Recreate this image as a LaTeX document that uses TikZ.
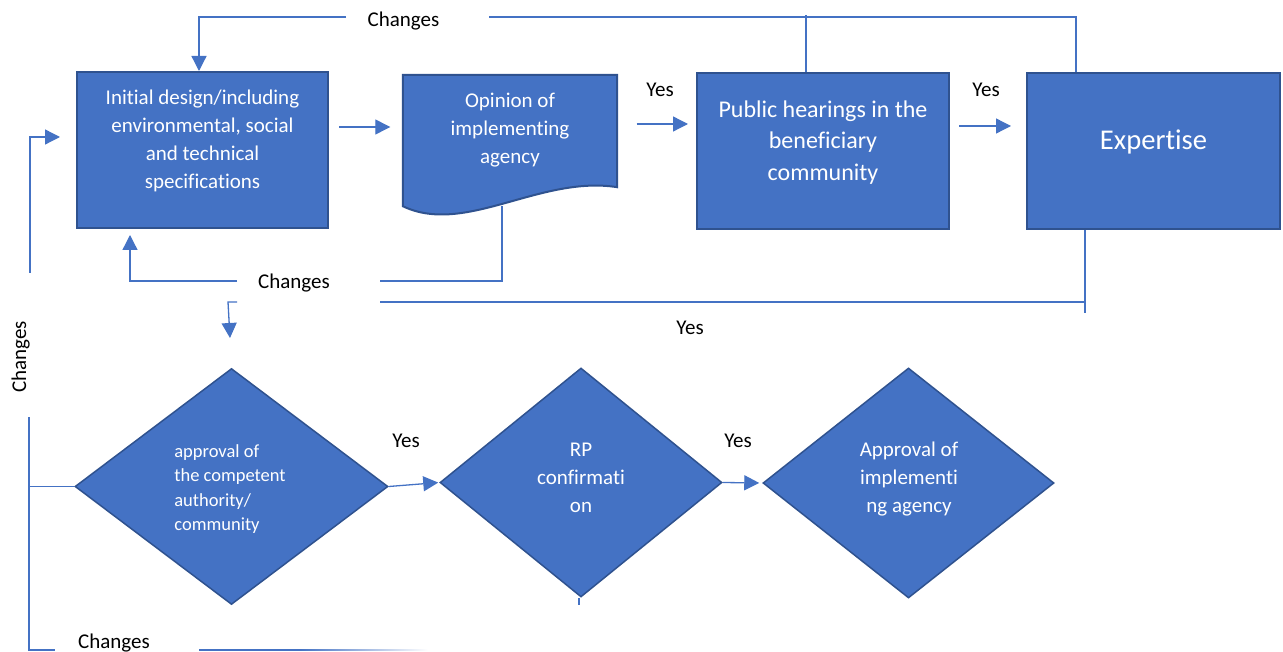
\documentclass[tikz,border=0pt]{standalone}
\usepackage{fontspec}
\setmainfont{Carlito}[Ligatures=NoCommon]
\usetikzlibrary{shapes.geometric,arrows.meta}
\definecolor{boxfill}{HTML}{4472C4}
\definecolor{boxline}{HTML}{2F528F}
\definecolor{linkblue}{HTML}{4472C4}

\begin{document}
\begin{tikzpicture}[
x=1pt,
y=-1pt,
every node/.style={inner sep=0pt}
]

\tikzstyle{bx} = [draw=boxline, fill=boxfill, line width=2pt, shape=rectangle, minimum height=156pt]
\tikzstyle{dc} = [shape=rectangle, minimum width=214pt, minimum height=131pt]
\tikzstyle{dm} = [draw=boxline, fill=boxfill, line width=1.5pt, shape=diamond]
\tikzstyle{wt} = [text=white, align=center, font=\fontsize{21pt}{28pt}\selectfont]
\tikzstyle{lb} = [anchor=base, font=\fontsize{21pt}{25pt}\selectfont]
\tikzstyle{ln} = [draw=linkblue, line width=1.3pt]
\tikzstyle{ar} = [ln, -{Triangle[length=15pt,width=15pt]}]

\useasboundingbox (0,0) rectangle (1283,652);

\node[bx, minimum width=251pt] (design) at (202.5,150) {};
\node[dc] (opinion) at (510,140.5) {};
\filldraw[draw=boxline, fill=boxfill, line width=2pt] (opinion.north west) -- (opinion.north east) -- ([yshift=19pt]opinion.south east)
	.. controls (540,175) and (465,236) .. (opinion.south west) -- cycle;
\node[bx, minimum width=252pt] (hearings) at (823,151) {};
\node[bx, minimum width=253pt] (expertise) at (1153.5,151) {};
\node[dm, minimum width=313pt, minimum height=236pt] (authority) at (231.5,486.5) {};
\node[dm, minimum width=282pt, minimum height=229pt] (rp) at (581,482.5) {};
\node[dm, minimum width=291pt, minimum height=230pt] (approval) at (908.5,483) {};

\node[wt] (designtxt) at (202.5,141) {Initial design/including\\environmental, social\\and technical\\specifications};
\node[wt] (opiniontxt) at (510,130) {Opinion of\\implementing\\agency};
\node[wt, font=\fontsize{24pt}{31.5pt}\selectfont] (hearingstxt) at (823,142.5) {Public hearings in the\\beneficiary\\community};
\node[wt, anchor=base, font=\fontsize{28.6pt}{34pt}\selectfont] (expertisetxt) at (1153.5,150) {Expertise};
\node[wt, align=left, font=\fontsize{18.5pt}{24.5pt}\selectfont] (authoritytxt) at (230,489) {approval of\\the competent\\authority/\\community};
\node[wt] (rptxt) at (581,478) {RP\\confirmati\\on};
\node[wt] (approvaltxt) at (909,479) {Approval of\\implementi\\ng agency};

\node[lb] (chtop) at (403.5,27) {Changes};
\node[lb] (chmid) at (294,289) {Changes};
\node[lb] (chbot) at (114,648) {Changes};
\node[lb, rotate=90] (chside) at (26,357) {Changes};
\node[lb] (yes1) at (660,97) {Yes};
\node[lb] (yes2) at (986,97) {Yes};
\node[lb] (yes3) at (690,335) {Yes};
\node[lb] (yes4) at (406,447) {Yes};
\node[lb] (yes5) at (738,447) {Yes};

\coordinate (t1) at (346,17);
\coordinate (t2) at (199,17);
\coordinate (t3) at (489,17);
\coordinate (t4) at (1076,17);
\coordinate (t5) at (806,15);
\coordinate (l1) at (30,273);
\coordinate (l2) at (30,137);
\coordinate (m0) at (130,281);
\coordinate (m1) at (237,281);
\coordinate (m2) at (380,281);
\coordinate (m3) at (502,281);
\coordinate (y1) at (380,302);
\coordinate (y2) at (1085,313);
\coordinate (k1) at (237,302);
\coordinate (k2) at (228,302);
\coordinate (k3) at (230,338);
\coordinate (b1) at (29,417);
\coordinate (b2) at (29,650);
\coordinate (b3) at (55,650);
\coordinate (b4) at (199,650);
\coordinate (b5) at (300,650);
\coordinate (b6) at (428,650);
\coordinate (s1) at (579,605);

\draw[ar] (t1) -- (t2) -- (design.north -| t2);
\draw[ln] (t3) -- (t4) -- (expertise.north -| t4);
\draw[ln] (hearings.north -| t5) -- (t5);
\draw[ar, shorten <=10pt, shorten >=12.5pt] ([yshift=23pt]design.east) -- ([yshift=13.5pt]opinion.west);
\draw[ar, shorten <=19.5pt, shorten >=8pt] ([yshift=16.5pt]opinion.east) -- ([yshift=27pt]hearings.west);
\draw[ar, shorten <=9pt, shorten >=15pt] ([yshift=25pt]hearings.east) -- ([yshift=25pt]expertise.west);
\draw[ar, shorten >=16pt] (l1) -- (l2) -- (design.west |- l2);
\draw[ar, shorten >=6pt] (m1) -- (m0) -- (design.south -| m0);
\draw[ln] (m2) -- (m3) -- (m3 |- opinion.south);
\draw[ln] (y1) -- (y1 -| y2) (expertise.south -| y2) -- (y2);
\draw[ar] (k1) -- (k2) -- (k3);
\draw[ln] (b1) -- (b2) -- (b3) (authority.west -| b1) -- (authority.west);
\draw[ln] (b4) -- (b5);
\shade[left color=linkblue, right color=white] ([yshift=.65pt]b5) rectangle ([yshift=-.65pt]b6);
\draw[ar, shorten >=1pt] (authority.east) -- (rp.west);
\draw[ar, shorten >=3pt] (rp.east) -- (approval.west);
\draw[ln] (rp.south -| s1) -- (s1);

\end{tikzpicture}
\end{document}
